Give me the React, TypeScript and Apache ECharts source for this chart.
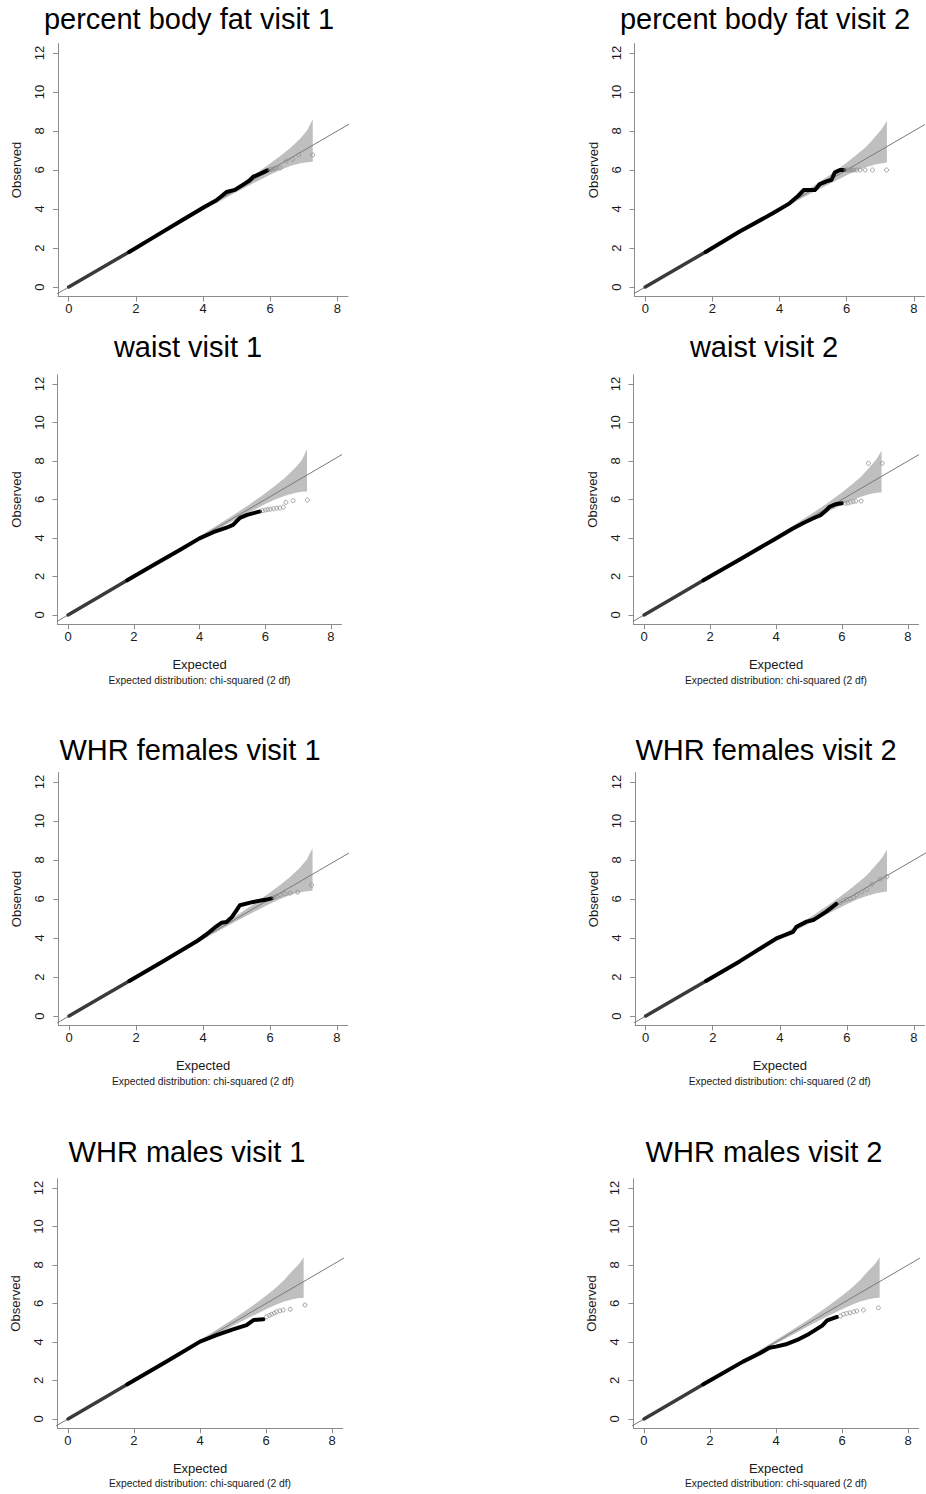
import React, { useEffect, useRef } from "react";
import * as echarts from "echarts";

// ---------- tick labels ----------
const X_TICKS = [0, 2, 4, 6, 8];
const Y_TICKS = [0, 2, 4, 6, 8, 10, 12];
const X_RANGE = [-0.32, 8.32];
const Y_RANGE = [-0.48, 12.48];

// ---------- titles ----------
const TITLES = [
  "percent body fat visit 1",
  "percent body fat visit 2",
  "waist visit 1",
  "waist visit 2",
  "WHR females visit 1",
  "WHR females visit 2",
  "WHR males visit 1",
  "WHR males visit 2",
];
const X_NAME = "Expected";
const Y_NAME = "Observed";
const SUBTITLE = "Expected distribution: chi-squared (2 df)";

// ---------- reference line y = x ----------
const DIAG = [[-1, -1], [9, 9]];

// ---------- confidence bands ----------
const BAND_A_X = [0, 2, 3, 4, 4.5, 5, 5.5, 6, 6.3, 6.6, 6.9, 7.1, 7.27];
const BAND_A_HI = [0.02, 2.03, 3.05, 4.09, 4.62, 5.16, 5.72, 6.33, 6.72, 7.13, 7.62, 8.02, 8.6];
const BAND_A_LO = [0, 1.97, 2.95, 3.92, 4.4, 4.87, 5.32, 5.76, 6.0, 6.2, 6.34, 6.4, 6.42];

const BAND_B_X = [0, 2, 3, 4, 4.5, 5, 5.5, 6, 6.3, 6.6, 6.85, 7.05, 7.2];
const BAND_B_HI = [0.02, 2.03, 3.05, 4.09, 4.62, 5.17, 5.74, 6.37, 6.78, 7.22, 7.7, 8.1, 8.53];
const BAND_B_LO = [0, 1.97, 2.95, 3.92, 4.4, 4.86, 5.3, 5.73, 5.97, 6.16, 6.28, 6.35, 6.38];

const BAND_C_X = [0, 2, 3, 4, 4.5, 5, 5.5, 6, 6.3, 6.55, 6.8, 7.0, 7.14];
const BAND_C_HI = [0.02, 2.03, 3.05, 4.1, 4.63, 5.18, 5.76, 6.4, 6.82, 7.22, 7.7, 8.05, 8.4];
const BAND_C_LO = [0, 1.97, 2.95, 3.91, 4.38, 4.84, 5.28, 5.7, 5.93, 6.1, 6.22, 6.28, 6.3];

// ---------- observed vs expected (dense part drawn as a thick trace, tail as circles) ----------
const PBF1_DENSE = [[0, 0], [1, 1], [1.8, 1.8], [2.5, 2.52], [3.3, 3.35], [4.05, 4.12], [4.4, 4.45], [4.7, 4.87], [4.95, 4.98], [5.2, 5.25], [5.38, 5.45], [5.5, 5.66], [5.7, 5.8], [5.92, 5.98]];
const PBF1_TAIL = [[6.0, 6.02], [6.06, 6.05], [6.12, 6.07], [6.18, 6.1], [6.3, 6.1], [6.48, 6.46], [6.67, 6.55], [6.85, 6.77], [7.27, 6.77]];

const PBF2_DENSE = [[0, 0], [1, 1], [1.8, 1.8], [2.8, 2.83], [3.8, 3.78], [4.3, 4.29], [4.56, 4.68], [4.72, 4.97], [5.05, 4.97], [5.12, 5.1], [5.2, 5.28], [5.4, 5.42], [5.55, 5.5], [5.65, 5.88], [5.8, 6.0], [5.92, 6.0]];
const PBF2_TAIL = [[5.98, 6.0], [6.04, 6.0], [6.1, 6.0], [6.16, 6.0], [6.22, 6.0], [6.3, 6.0], [6.4, 6.0], [6.55, 6.0], [6.77, 6.0], [7.19, 6.0]];

const WAIST1_DENSE = [[0, 0], [1, 1], [1.8, 1.8], [2.6, 2.6], [3.4, 3.38], [4.0, 3.98], [4.42, 4.3], [4.8, 4.52], [5.02, 4.68], [5.23, 5.05], [5.45, 5.2], [5.84, 5.38]];
const WAIST1_TAIL = [[5.92, 5.42], [6.0, 5.45], [6.08, 5.48], [6.16, 5.5], [6.25, 5.52], [6.35, 5.55], [6.44, 5.56], [6.55, 5.6], [6.63, 5.85], [6.85, 5.94], [7.28, 5.97]];

const WAIST2_DENSE = [[0, 0], [1, 1], [1.8, 1.8], [2.9, 2.88], [3.92, 3.9], [4.5, 4.48], [4.83, 4.78], [5.1, 5.0], [5.35, 5.18], [5.5, 5.4], [5.62, 5.62], [5.8, 5.75], [6.0, 5.8]];
const WAIST2_TAIL = [[6.1, 5.8], [6.18, 5.82], [6.26, 5.86], [6.34, 5.89], [6.42, 5.92], [6.58, 5.92], [6.8, 7.88], [7.22, 7.88]];

const WHRF1_DENSE = [[0, 0], [1, 1], [1.8, 1.8], [2.8, 2.8], [3.8, 3.82], [4.1, 4.18], [4.4, 4.6], [4.55, 4.78], [4.7, 4.82], [4.85, 5.05], [5.0, 5.42], [5.1, 5.68], [5.5, 5.85], [5.9, 5.97], [6.05, 6.03]];
const WHRF1_TAIL = [[6.12, 6.08], [6.2, 6.15], [6.3, 6.2], [6.45, 6.27], [6.6, 6.3], [6.83, 6.35], [7.24, 6.72]];

const WHRF2_DENSE = [[0, 0], [1, 1], [1.8, 1.8], [2.8, 2.8], [3.9, 3.98], [4.4, 4.32], [4.5, 4.58], [4.8, 4.84], [5.0, 4.92], [5.39, 5.35], [5.69, 5.75]];
const WHRF2_TAIL = [[5.8, 5.82], [5.9, 5.92], [6.0, 5.98], [6.1, 6.02], [6.2, 6.08], [6.3, 6.22], [6.45, 6.35], [6.6, 6.5], [6.75, 6.75], [7.0, 7.02], [7.2, 7.15]];

const WHRM1_DENSE = [[0, 0], [1, 1], [1.8, 1.8], [3.0, 3.0], [4.0, 4.02], [4.5, 4.36], [5.0, 4.66], [5.41, 4.88], [5.62, 5.14], [5.92, 5.18]];
const WHRM1_TAIL = [[6.02, 5.31], [6.1, 5.38], [6.17, 5.44], [6.25, 5.5], [6.32, 5.57], [6.42, 5.62], [6.52, 5.66], [6.73, 5.7], [7.18, 5.92]];

const WHRM2_DENSE = [[0, 0], [1, 1], [1.8, 1.8], [3.0, 2.98], [3.5, 3.4], [3.8, 3.7], [4.0, 3.76], [4.3, 3.88], [4.7, 4.15], [5.0, 4.42], [5.4, 4.85], [5.55, 5.12], [5.85, 5.3]];
const WHRM2_TAIL = [[5.95, 5.35], [6.04, 5.44], [6.14, 5.48], [6.24, 5.52], [6.35, 5.57], [6.45, 5.61], [6.65, 5.66], [7.1, 5.78]];

const DENSE = [PBF1_DENSE, PBF2_DENSE, WAIST1_DENSE, WAIST2_DENSE, WHRF1_DENSE, WHRF2_DENSE, WHRM1_DENSE, WHRM2_DENSE];
const TAIL = [PBF1_TAIL, PBF2_TAIL, WAIST1_TAIL, WAIST2_TAIL, WHRF1_TAIL, WHRF2_TAIL, WHRM1_TAIL, WHRM2_TAIL];
const BANDS = [
  [BAND_A_X, BAND_A_LO, BAND_A_HI],
  [BAND_B_X, BAND_B_LO, BAND_B_HI],
  [BAND_A_X, BAND_A_LO, BAND_A_HI],
  [BAND_B_X, BAND_B_LO, BAND_B_HI],
  [BAND_A_X, BAND_A_LO, BAND_A_HI],
  [BAND_B_X, BAND_B_LO, BAND_B_HI],
  [BAND_C_X, BAND_C_LO, BAND_C_HI],
  [BAND_C_X, BAND_C_LO, BAND_C_HI],
];

// ---------- layout (pixels) ----------
const LAYOUT = [
  { left: 58, right: 348, top: 43.6, bottom: 296.4, titleX: 189, titleY: 19, sub: false },
  { left: 634.5, right: 924.5, top: 43.6, bottom: 296.4, titleX: 765, titleY: 19, sub: false },
  { left: 57.5, right: 341.5, top: 374.8, bottom: 624.2, titleX: 188, titleY: 347, sub: true, subY: 680 },
  { left: 633.5, right: 918.5, top: 374.8, bottom: 624.2, titleX: 764, titleY: 347, sub: true, subY: 680 },
  { left: 58.3, right: 347.7, top: 772.6, bottom: 1025.4, titleX: 190, titleY: 750, sub: true, subY: 1081 },
  { left: 635, right: 924.5, top: 772.6, bottom: 1025.4, titleX: 766, titleY: 750, sub: true, subY: 1081 },
  { left: 57.4, right: 342.6, top: 1178.8, bottom: 1428.2, titleX: 187, titleY: 1152, sub: true, subY: 1483 },
  { left: 633.4, right: 918.6, top: 1178.8, bottom: 1428.2, titleX: 764, titleY: 1152, sub: true, subY: 1483 },
];

const FONT = "'Liberation Sans', Arial, Helvetica, sans-serif";
const AXIS_COLOR = "#8c8c8c";
const LABEL_COLOR = "#1a1a1a";
const GREY_SPLIT = 1.8;

function buildOption() {
  const grid: any[] = [];
  const xAxis: any[] = [];
  const yAxis: any[] = [];
  const series: any[] = [];
  const graphic: any[] = [];

  LAYOUT.forEach((L, i) => {
    grid.push({
      left: L.left,
      top: L.top,
      width: L.right - L.left,
      height: L.bottom - L.top,
      containLabel: false,
    });
    xAxis.push({
      gridIndex: i,
      type: "value",
      min: X_RANGE[0],
      max: X_RANGE[1],
      splitLine: { show: false },
      axisLine: { show: true, onZero: false, lineStyle: { color: AXIS_COLOR, width: 1 } },
      axisTick: { show: true, length: 5, customValues: X_TICKS, lineStyle: { color: AXIS_COLOR } },
      axisLabel: { customValues: X_TICKS, margin: 6, fontSize: 13, color: LABEL_COLOR, fontFamily: FONT },
      name: L.sub ? X_NAME : "",
      nameLocation: "middle",
      nameGap: 34,
      nameTextStyle: { fontSize: 13, color: LABEL_COLOR, fontFamily: FONT },
    });
    yAxis.push({
      gridIndex: i,
      type: "value",
      min: Y_RANGE[0],
      max: Y_RANGE[1],
      splitLine: { show: false },
      axisLine: { show: true, onZero: false, lineStyle: { color: AXIS_COLOR, width: 1 } },
      axisTick: { show: true, length: 5, customValues: Y_TICKS, lineStyle: { color: AXIS_COLOR } },
      axisLabel: { customValues: Y_TICKS, rotate: 90, margin: 12, fontSize: 13, color: LABEL_COLOR, fontFamily: FONT },
      name: Y_NAME,
      nameLocation: "middle",
      nameGap: 35,
      nameTextStyle: { fontSize: 13, color: LABEL_COLOR, fontFamily: FONT },
    });

    const [bx, blo, bhi] = BANDS[i];
    series.push({
      type: "custom",
      xAxisIndex: i,
      yAxisIndex: i,
      silent: true,
      clip: true,
      data: bx.map((x, k) => [x, blo[k], bhi[k]]),
      encode: { x: 0, y: [1, 2] },
      renderItem: (params: any, api: any) => {
        if (params.dataIndex !== 0) return null;
        const pts: number[][] = [];
        for (let k = 0; k < bx.length; k++) pts.push(api.coord([bx[k], bhi[k]]));
        for (let k = bx.length - 1; k >= 0; k--) pts.push(api.coord([bx[k], blo[k]]));
        return { type: "polygon", shape: { points: pts }, style: { fill: "#bfbfbf", stroke: "none" } };
      },
      z: 1,
    });
    series.push({
      type: "line",
      xAxisIndex: i,
      yAxisIndex: i,
      data: DIAG,
      showSymbol: false,
      symbol: "none",
      clip: true,
      silent: true,
      lineStyle: { color: "#7a7a7a", width: 1 },
      z: 2,
    });
    const dense = DENSE[i];
    series.push({
      type: "line",
      xAxisIndex: i,
      yAxisIndex: i,
      data: dense.filter((p) => p[0] <= GREY_SPLIT),
      symbol: "none",
      silent: true,
      lineStyle: { color: "#3a3a3a", width: 3.5, cap: "round", join: "round" },
      z: 3,
    });
    series.push({
      type: "line",
      xAxisIndex: i,
      yAxisIndex: i,
      data: dense.filter((p) => p[0] >= GREY_SPLIT),
      symbol: "none",
      silent: true,
      lineStyle: { color: "#000000", width: 4, cap: "round", join: "round" },
      z: 4,
    });
    series.push({
      type: "scatter",
      xAxisIndex: i,
      yAxisIndex: i,
      data: TAIL[i],
      symbol: "circle",
      symbolSize: 4,
      silent: true,
      itemStyle: { color: "rgba(255,255,255,0)", borderColor: "#8f8f8f", borderWidth: 1 },
      z: 5,
    });

    graphic.push({
      type: "text",
      x: L.titleX,
      y: L.titleY,
      style: {
        text: TITLES[i],
        fontSize: 29,
        fontFamily: FONT,
        fill: "#000",
        align: "center",
        verticalAlign: "middle",
      },
    });
    if (L.sub) {
      graphic.push({
        type: "text",
        x: (L.left + L.right) / 2,
        y: L.subY,
        style: {
          text: SUBTITLE,
          fontSize: 10.3,
          fontFamily: FONT,
          fill: LABEL_COLOR,
          align: "center",
          verticalAlign: "middle",
        },
      });
    }
  });

  return {
    animation: false,
    backgroundColor: "#ffffff",
    textStyle: { fontFamily: FONT },
    grid,
    xAxis,
    yAxis,
    series,
    graphic,
  };
}

export default function App() {
  const ref = useRef<HTMLDivElement>(null);
  useEffect(() => {
    if (!ref.current) return;
    const chart = echarts.init(ref.current, null, { renderer: "svg" });
    chart.setOption(buildOption() as any);
    return () => chart.dispose();
  }, []);
  return (
    <div
      ref={ref}
      style={{ position: "absolute", left: 0, top: 0, width: 926, height: 1494, background: "#fff" }}
    />
  );
}
